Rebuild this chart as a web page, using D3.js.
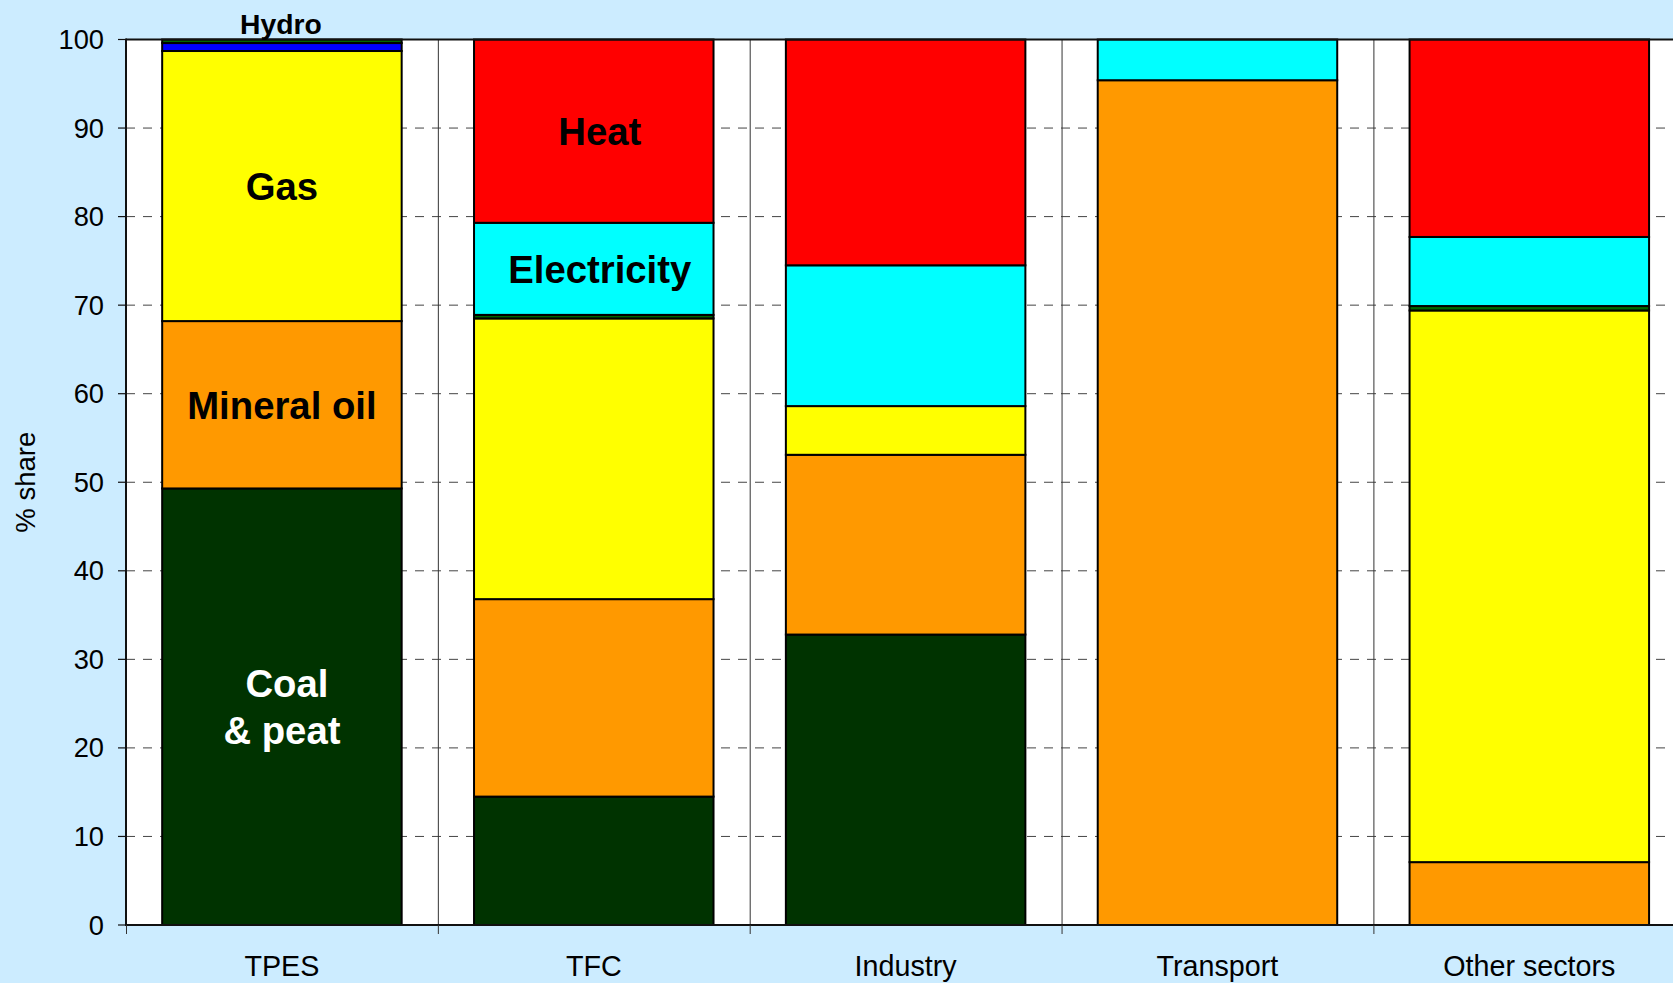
<!DOCTYPE html>
<html>
<head>
<meta charset="utf-8">
<script src="https://cdn.jsdelivr.net/npm/d3@7"></script>
<style>
  html, body { margin: 0; padding: 0; background: #CCECFF; overflow: hidden; }
  svg { display: block; font-family: "Liberation Sans", Arial, sans-serif; }
</style>
</head>
<body>
<svg id="chart" width="1673" height="983"></svg>
<script>
const categories = ["TPES", "TFC", "Industry", "Transport", "Other sectors"];
const coalPeat    = [49.3, 14.5, 32.8, 0,    0];
const mineralOil  = [18.9, 22.3, 20.3, 95.4, 7.1];
const gas         = [30.5, 31.7, 5.5,  0,    62.3];
const hydro       = [0.9,  0,    0,    0,    0];
const otherRen    = [0.4,  0.4,  0,    0,    0.5];
const electricity = [0,    10.4, 15.9, 4.6,  7.8];
const heat        = [0,    20.7, 25.5, 0,    22.3];
const yTicks = [0, 10, 20, 30, 40, 50, 60, 70, 80, 90, 100];

const seriesKeys = ["coal", "oil", "gas", "hydro", "other", "elec", "heat"];
const seriesArrays = { coal: coalPeat, oil: mineralOil, gas: gas, hydro: hydro, other: otherRen, elec: electricity, heat: heat };
const colors = { coal: "#003300", oil: "#FF9900", gas: "#FFFF00", hydro: "#0000FF", other: "#006600", elec: "#00FFFF", heat: "#FF0000" };

const table = categories.map((c, i) => {
  const row = { cat: c };
  seriesKeys.forEach(k => row[k] = seriesArrays[k][i]);
  return row;
});

const svg = d3.select("#chart");
const pLeft = 126, pTop = 39.5, pBottom = 925, band = 311.85;
const x = d3.scaleBand().domain(categories).range([pLeft, pLeft + band * categories.length]).paddingInner(0).paddingOuter(0);
const y = d3.scaleLinear().domain([0, 100]).range([pBottom, pTop]);
const barW = x.bandwidth() * 0.768;
const pRight = x.range()[1];

// plot background
svg.append("rect").attr("x", pLeft).attr("y", pTop).attr("width", pRight - pLeft).attr("height", pBottom - pTop).attr("fill", "#FFFFFF");

// horizontal dashed gridlines
svg.append("g").selectAll("line").data(yTicks.filter(t => t > 0 && t < 100)).join("line")
  .attr("x1", pLeft).attr("x2", pRight)
  .attr("y1", d => y(d)).attr("y2", d => y(d))
  .attr("stroke", "#444").attr("stroke-width", 1).attr("stroke-dasharray", "9,8");

// vertical gridlines at band boundaries
svg.append("g").selectAll("line").data(categories.slice(1)).join("line")
  .attr("x1", d => x(d) + 0.5).attr("x2", d => x(d) + 0.5)
  .attr("y1", pTop).attr("y2", pBottom)
  .attr("stroke", "#333").attr("stroke-width", 1);

// stacked bars
const stack = d3.stack().keys(seriesKeys);
const stacked = stack(table);
const g = svg.append("g");
stacked.forEach(s => {
  g.append("g").selectAll("rect").data(s.filter(d => d[1] - d[0] > 0)).join("rect")
    .attr("x", d => x(d.data.cat) + (x.bandwidth() - barW) / 2)
    .attr("y", d => y(d[1]))
    .attr("width", barW)
    .attr("height", d => y(d[0]) - y(d[1]))
    .attr("fill", colors[s.key])
    .attr("stroke", "#000").attr("stroke-width", 2);
});

// axes lines
svg.append("line").attr("x1", pLeft).attr("x2", pRight).attr("y1", pTop).attr("y2", pTop).attr("stroke", "#111").attr("stroke-width", 2);
svg.append("line").attr("x1", pLeft).attr("x2", pRight).attr("y1", pBottom).attr("y2", pBottom).attr("stroke", "#111").attr("stroke-width", 2);
svg.append("line").attr("x1", pLeft).attr("x2", pLeft).attr("y1", pTop - 1).attr("y2", pBottom + 1).attr("stroke", "#111").attr("stroke-width", 2);

// y ticks and labels
const yg = svg.append("g");
yg.selectAll("line").data(yTicks).join("line")
  .attr("x1", pLeft - 8).attr("x2", pLeft).attr("y1", d => y(d)).attr("y2", d => y(d))
  .attr("stroke", "#111").attr("stroke-width", 1.2);
yg.selectAll("text").data(yTicks).join("text")
  .attr("x", pLeft - 22).attr("y", d => y(d)).attr("dy", "0.35em")
  .attr("text-anchor", "end").attr("font-size", 27.3).attr("fill", "#000")
  .text(d => d);

// x ticks at band boundaries
const xb = categories.map(c => x(c)).concat([pRight]);
svg.append("g").selectAll("line").data(xb).join("line")
  .attr("x1", d => d + 0.5).attr("x2", d => d + 0.5).attr("y1", pBottom).attr("y2", pBottom + 9)
  .attr("stroke", "#333").attr("stroke-width", 1);
svg.append("g").selectAll("text").data(categories).join("text")
  .attr("x", d => x(d) + x.bandwidth() / 2).attr("y", 976)
  .attr("text-anchor", "middle").attr("font-size", 28.7).attr("fill", "#000")
  .text(d => d);

// y axis title
svg.append("text").attr("transform", `translate(35, ${(pTop + pBottom) / 2}) rotate(-90)`)
  .attr("text-anchor", "middle").attr("font-size", 27.5).attr("fill", "#000").text("% share");

// segment labels
function seg(cat, key) {
  const s = stacked.find(z => z.key === key);
  return s[categories.indexOf(cat)];
}
const labels = [
  { cat: "TPES", key: "gas", lines: ["Gas"], color: "#000", dx: 0 },
  { cat: "TPES", key: "oil", lines: ["Mineral oil"], color: "#000", dx: 0 },
  { cat: "TPES", key: "coal", lines: ["Coal", "& peat"], color: "#FFF", dx: 0, ddx: [5, 0] },
  { cat: "TFC", key: "heat", lines: ["Heat"], color: "#000", dx: 6 },
  { cat: "TFC", key: "elec", lines: ["Electricity"], color: "#000", dx: 6 }
];
const lg = svg.append("g").attr("font-weight", "bold").attr("text-anchor", "middle");
labels.forEach(l => {
  const d = seg(l.cat, l.key);
  const cx = x(l.cat) + x.bandwidth() / 2 + l.dx;
  const cy = y((d[0] + d[1]) / 2);
  const lh = 47;
  const n = l.lines.length;
  l.lines.forEach((t, i) => {
    lg.append("text")
      .attr("x", cx + (l.ddx ? l.ddx[i] : 0))
      .attr("y", cy + (i - (n - 1) / 2) * lh)
      .attr("dy", "0.36em")
      .attr("font-size", 38.3).attr("fill", l.color).text(t);
  });
});
// Hydro label above the TPES bar
lg.append("text").attr("x", x("TPES") + x.bandwidth() / 2 - 1).attr("y", y(100) - 6)
  .attr("font-size", 28.3).attr("fill", "#000").text("Hydro");
</script>
</body>
</html>
